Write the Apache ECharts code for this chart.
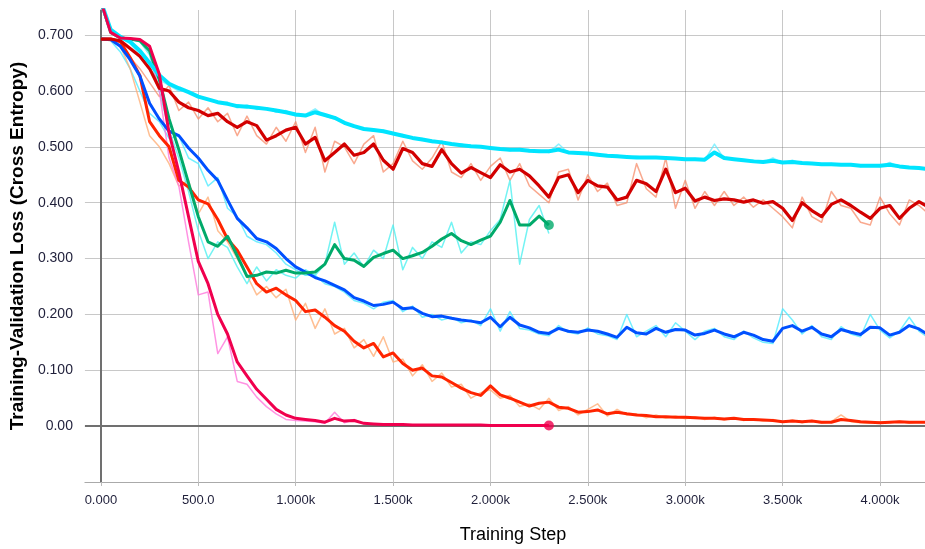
<!DOCTYPE html>
<html>
<head>
<meta charset="utf-8">
<title>Training-Validation Loss</title>
<script src="https://cdn.jsdelivr.net/npm/echarts@6/dist/echarts.min.js"></script>
<style>
    html, body { margin: 0; padding: 0; background: #fff; }
    #lossChartDiv { width: 925px; height: 549px; }
</style>
</head>
<body>
<div id="lossChartDiv"></div>
<script>
// training steps, one point every 50 steps
var steps = [0, 50, 100, 150, 200, 250, 300, 350, 400, 450,
    500, 550, 600, 650, 700, 750, 800, 850, 900, 950,
    1000, 1050, 1100, 1150, 1200, 1250, 1300, 1350, 1400, 1450,
    1500, 1550, 1600, 1650, 1700, 1750, 1800, 1850, 1900, 1950,
    2000, 2050, 2100, 2150, 2200, 2250, 2300, 2350, 2400, 2450,
    2500, 2550, 2600, 2650, 2700, 2750, 2800, 2850, 2900, 2950,
    3000, 3050, 3100, 3150, 3200, 3250, 3300, 3350, 3400, 3450,
    3500, 3550, 3600, 3650, 3700, 3750, 3800, 3850, 3900, 3950,
    4000, 4050, 4100, 4150, 4200, 4250];

var xTicks = [0, 500, 1000, 1500, 2000, 2500, 3000, 3500, 4000];
var yTicks = [-0.1, 0, 0.1, 0.2, 0.3, 0.4, 0.5, 0.6, 0.7];

// cyan run (smoothed + raw)
var cyanSmooth = [0.76, 0.71, 0.697, 0.688, 0.672, 0.65, 0.628, 0.613, 0.605, 0.598,
    0.59, 0.585, 0.58, 0.577, 0.573, 0.572, 0.57, 0.568, 0.565, 0.562,
    0.558, 0.556, 0.562, 0.557, 0.552, 0.543, 0.537, 0.532, 0.53, 0.528,
    0.524, 0.52, 0.516, 0.513, 0.51, 0.508, 0.505, 0.503, 0.501, 0.5,
    0.498, 0.496, 0.495, 0.495, 0.493, 0.492, 0.492, 0.495, 0.49, 0.489,
    0.488, 0.486, 0.484, 0.483, 0.482, 0.481, 0.481, 0.481, 0.48, 0.479,
    0.478, 0.478, 0.477, 0.49, 0.48, 0.478, 0.476, 0.474, 0.473, 0.475,
    0.472, 0.473, 0.471, 0.47, 0.469, 0.469, 0.468, 0.468, 0.466, 0.466,
    0.466, 0.468, 0.465, 0.463, 0.462, 0.46];
var cyanRaw = [0.76, 0.71, 0.695, 0.685, 0.665, 0.64, 0.62, 0.61, 0.6, 0.6,
    0.588, 0.585, 0.578, 0.58, 0.57, 0.575, 0.567, 0.57, 0.562, 0.565,
    0.555, 0.558, 0.568, 0.555, 0.55, 0.545, 0.535, 0.534, 0.528, 0.53,
    0.522, 0.522, 0.514, 0.515, 0.508, 0.51, 0.503, 0.505, 0.5, 0.502,
    0.496, 0.498, 0.493, 0.497, 0.491, 0.494, 0.49, 0.505, 0.489, 0.49,
    0.486, 0.488, 0.483, 0.485, 0.481, 0.483, 0.48, 0.482, 0.479, 0.48,
    0.477, 0.479, 0.476, 0.505, 0.479, 0.478, 0.475, 0.476, 0.472, 0.48,
    0.471, 0.476, 0.47, 0.471, 0.468, 0.47, 0.467, 0.469, 0.465, 0.467,
    0.465, 0.472, 0.464, 0.464, 0.461, 0.459];

// dark red run
var darkRedSmooth = [0.693, 0.693, 0.69, 0.676, 0.662, 0.64, 0.605, 0.6, 0.58, 0.57,
    0.565, 0.556, 0.56, 0.545, 0.535, 0.545, 0.538, 0.512, 0.52, 0.53,
    0.535, 0.505, 0.517, 0.475, 0.49, 0.505, 0.485, 0.49, 0.505, 0.476,
    0.46, 0.497, 0.49, 0.47, 0.465, 0.495, 0.47, 0.453, 0.463, 0.454,
    0.445, 0.468, 0.455, 0.46, 0.448, 0.43, 0.41, 0.445, 0.45, 0.418,
    0.44, 0.43, 0.428, 0.405, 0.41, 0.44, 0.434, 0.42, 0.46, 0.418,
    0.426, 0.403, 0.41, 0.404, 0.407, 0.405, 0.401, 0.405, 0.399, 0.402,
    0.39, 0.368, 0.4, 0.386, 0.375, 0.397, 0.405, 0.395, 0.383, 0.372,
    0.39, 0.395, 0.372, 0.39, 0.402, 0.392];
var darkRedRaw = [0.693, 0.693, 0.68, 0.66, 0.64, 0.615, 0.59, 0.61, 0.565, 0.58,
    0.55, 0.57, 0.545, 0.56, 0.52, 0.555, 0.52, 0.505, 0.535, 0.51,
    0.545, 0.49, 0.535, 0.455, 0.51, 0.5, 0.47, 0.505, 0.52, 0.455,
    0.47, 0.51, 0.475, 0.46, 0.48, 0.51, 0.455, 0.445, 0.47, 0.44,
    0.465, 0.48, 0.44, 0.47, 0.43, 0.415, 0.4, 0.455, 0.46, 0.405,
    0.45, 0.42, 0.435, 0.395, 0.4, 0.47, 0.425, 0.41, 0.48, 0.39,
    0.44, 0.39, 0.42, 0.395, 0.42, 0.395, 0.41, 0.392, 0.405, 0.39,
    0.375, 0.355, 0.41, 0.375, 0.365, 0.42, 0.395, 0.39, 0.365, 0.36,
    0.41, 0.38, 0.36, 0.405, 0.395, 0.38];

// blue run
var blueSmooth = [0.693, 0.692, 0.68, 0.656, 0.627, 0.578, 0.55, 0.528, 0.52, 0.498,
    0.48, 0.458, 0.44, 0.405, 0.372, 0.355, 0.336, 0.33, 0.318, 0.3,
    0.285, 0.276, 0.266, 0.26, 0.252, 0.244, 0.23, 0.224, 0.216, 0.218,
    0.222, 0.21, 0.212, 0.202, 0.196, 0.197, 0.193, 0.19, 0.188, 0.185,
    0.195, 0.178, 0.195, 0.181, 0.176, 0.168, 0.166, 0.175, 0.17, 0.168,
    0.172, 0.17, 0.165, 0.159, 0.177, 0.167, 0.165, 0.175, 0.168, 0.173,
    0.172, 0.163, 0.166, 0.172, 0.165, 0.16, 0.168, 0.163, 0.155, 0.152,
    0.175, 0.18, 0.17, 0.177, 0.165, 0.16, 0.173, 0.168, 0.164, 0.177,
    0.176, 0.163, 0.168, 0.18, 0.174, 0.163];
var blueRaw = [0.693, 0.69, 0.67, 0.64, 0.6, 0.56, 0.545, 0.515, 0.52, 0.48,
    0.47, 0.43, 0.445, 0.39, 0.375, 0.34, 0.33, 0.325, 0.31, 0.29,
    0.28, 0.27, 0.27, 0.255, 0.25, 0.24, 0.225, 0.22, 0.21, 0.222,
    0.225, 0.205, 0.215, 0.195, 0.2, 0.19, 0.195, 0.185, 0.19, 0.18,
    0.21, 0.17, 0.205, 0.175, 0.172, 0.165, 0.162, 0.18, 0.168, 0.165,
    0.176, 0.165, 0.162, 0.155, 0.2, 0.16, 0.17, 0.18, 0.16, 0.185,
    0.17, 0.155, 0.17, 0.175, 0.16, 0.155, 0.17, 0.158, 0.15, 0.148,
    0.21, 0.19, 0.165, 0.18, 0.16, 0.155, 0.178, 0.165, 0.16, 0.2,
    0.172, 0.158, 0.17, 0.195, 0.17, 0.158];

// red-orange run
var redSmooth = [0.693, 0.693, 0.688, 0.66, 0.628, 0.545, 0.52, 0.5, 0.44, 0.428,
    0.405, 0.398, 0.37, 0.335, 0.315, 0.285, 0.255, 0.24, 0.247, 0.235,
    0.225, 0.205, 0.208, 0.195, 0.18, 0.17, 0.152, 0.14, 0.148, 0.124,
    0.131, 0.112, 0.1, 0.104, 0.09, 0.088, 0.078, 0.068, 0.06, 0.055,
    0.072, 0.056, 0.05, 0.043, 0.036, 0.041, 0.043, 0.034, 0.032, 0.025,
    0.026, 0.029, 0.022, 0.025, 0.022, 0.02, 0.019, 0.017, 0.017, 0.016,
    0.016, 0.015, 0.014, 0.014, 0.013, 0.014, 0.012, 0.012, 0.011, 0.01,
    0.008, 0.009, 0.008, 0.009, 0.007, 0.007, 0.012, 0.01, 0.008, 0.007,
    0.006, 0.007, 0.008, 0.007, 0.007, 0.007];
var redRaw = [0.693, 0.69, 0.68, 0.64, 0.58, 0.52, 0.5, 0.47, 0.43, 0.44,
    0.38, 0.41, 0.35, 0.33, 0.3, 0.27, 0.235, 0.25, 0.23, 0.245,
    0.19, 0.22, 0.175, 0.21, 0.165, 0.175, 0.14, 0.155, 0.125, 0.16,
    0.115, 0.12, 0.09, 0.11, 0.08, 0.095, 0.07, 0.075, 0.05, 0.06,
    0.065, 0.05, 0.055, 0.035, 0.04, 0.03, 0.05, 0.028, 0.035, 0.02,
    0.03, 0.04, 0.018, 0.03, 0.02, 0.022, 0.015, 0.02, 0.014, 0.018,
    0.013, 0.017, 0.012, 0.016, 0.011, 0.015, 0.01, 0.013, 0.009, 0.012,
    0.007, 0.011, 0.006, 0.01, 0.005, 0.008, 0.02, 0.008, 0.006, 0.005,
    0.008, 0.006, 0.009, 0.005, 0.008, 0.006];

// green run (stops at 2.3k)
var greenSmooth = [0.76, 0.705, 0.695, 0.693, 0.69, 0.672, 0.62, 0.55, 0.495, 0.435,
    0.375, 0.33, 0.322, 0.34, 0.305, 0.268, 0.27, 0.276, 0.274, 0.279,
    0.274, 0.274, 0.276, 0.29, 0.325, 0.3, 0.297, 0.286, 0.302, 0.309,
    0.315, 0.3, 0.305, 0.311, 0.322, 0.335, 0.345, 0.332, 0.325, 0.333,
    0.34, 0.365, 0.404, 0.36, 0.36, 0.376, 0.36];
var greenRaw = [0.76, 0.705, 0.695, 0.693, 0.688, 0.665, 0.6, 0.53, 0.48, 0.42,
    0.35, 0.3, 0.33, 0.32, 0.285, 0.255, 0.285, 0.26, 0.28, 0.27,
    0.265, 0.28, 0.27, 0.29, 0.365, 0.29, 0.31, 0.285, 0.315, 0.3,
    0.36, 0.28, 0.32, 0.3, 0.33, 0.32, 0.365, 0.31, 0.33, 0.325,
    0.35, 0.37, 0.44, 0.29, 0.37, 0.395, 0.345];

// crimson run (stops at 2.3k)
var crimsonSmooth = [0.76, 0.705, 0.695, 0.694, 0.692, 0.68, 0.63, 0.525, 0.455, 0.375,
    0.295, 0.255, 0.2, 0.165, 0.115, 0.09, 0.066, 0.048, 0.03, 0.02,
    0.014, 0.012, 0.01, 0.007, 0.014, 0.009, 0.01, 0.005, 0.004, 0.003,
    0.003, 0.003, 0.002, 0.002, 0.002, 0.002, 0.002, 0.002, 0.002, 0.002,
    0.001, 0.001, 0.001, 0.001, 0.001, 0.001, 0.001];
var crimsonRaw = [0.76, 0.705, 0.695, 0.694, 0.69, 0.67, 0.6, 0.48, 0.43, 0.33,
    0.235, 0.24, 0.13, 0.16, 0.08, 0.075, 0.052, 0.035, 0.022, 0.012,
    0.01, 0.009, 0.008, 0.005, 0.025, 0.006, 0.012, 0.004, 0.003, 0.003,
    0.002, 0.003, 0.002, 0.002, 0.001, 0.002, 0.001, 0.002, 0.001, 0.001,
    0.001, 0.001, 0.001, 0.001, 0.001, 0.001, 0.001];

var lossChart = echarts.init(document.getElementById("lossChartDiv"));

function pairUp(values) {
    var list = [];
    for (var i = 0; i < values.length; i++) {
        list.push([steps[i], values[i]]);
    }
    return list;
}

function lineSeries(name, values, color, width, z) {
    return {
        name: name,
        type: 'line',
        data: pairUp(values),
        showSymbol: false,
        symbol: 'none',
        silent: true,
        z: z,
        lineStyle: { color: color, width: width, join: 'round' }
    };
}

function lastPoint(values) {
    var n = values.length - 1;
    return [steps[n], values[n]];
}

function xLabel(v) {
    if (v === 0) return '0.000';
    if (v < 1000) return v.toFixed(1);
    return (v / 1000).toFixed(3) + 'k';
}

function yLabel(v) {
    if (Math.abs(v) < 1e-9) return '0.00';
    return v.toFixed(3);
}

var gridColor = 'rgba(110,110,110,0.38)';
var textColor = '#1f1f3a';

var lossOption = {
    animation: false,
    backgroundColor: '#ffffff',
    grid: { left: 84, right: 0, top: 10, bottom: 67, containLabel: false },
    xAxis: {
        type: 'value',
        min: -82,
        max: 4231,
        name: 'Training Step',
        nameLocation: 'middle',
        nameGap: 44,
        nameTextStyle: { fontFamily: 'Liberation Sans', fontSize: 18, color: '#000', padding: [0, 0, 0, 16] },
        axisLine: { show: true, onZero: false, lineStyle: { color: '#aaa', width: 1 } },
        axisTick: { show: true, length: 4, customValues: xTicks, lineStyle: { color: '#bbb' } },
        axisLabel: {
            customValues: xTicks,
            formatter: xLabel,
            margin: 12,
            fontFamily: 'Liberation Sans',
            fontSize: 13,
            color: textColor
        },
        splitLine: { show: true, customValues: xTicks, lineStyle: { color: gridColor, width: 1 } }
    },
    yAxis: {
        type: 'value',
        min: -0.1,
        max: 0.745,
        name: 'Training-Validation Loss (Cross Entropy)',
        nameLocation: 'middle',
        nameGap: 50,
        nameTextStyle: { fontFamily: 'Liberation Sans', fontSize: 19, fontWeight: 'bold', color: '#000' },
        axisLine: { show: true, lineStyle: { color: '#999', width: 1.5 } },
        axisTick: { show: false, customValues: yTicks },
        axisLabel: {
            customValues: yTicks.slice(1),
            formatter: yLabel,
            margin: 12,
            fontFamily: 'Liberation Sans',
            fontSize: 14,
            color: textColor
        },
        splitLine: { show: true, customValues: yTicks, lineStyle: { color: gridColor, width: 1 } }
    },
    series: [
        lineSeries('cyan raw', cyanRaw, 'rgba(90,235,255,0.7)', 1.5, 1),
        lineSeries('dark red raw', darkRedRaw, 'rgba(247,140,105,0.75)', 1.5, 1),
        lineSeries('blue raw', blueRaw, 'rgba(80,235,255,0.8)', 1.5, 1),
        lineSeries('red raw', redRaw, 'rgba(255,175,120,0.8)', 1.5, 1),
        lineSeries('green raw', greenRaw, 'rgba(80,240,240,0.8)', 1.5, 1),
        lineSeries('crimson raw', crimsonRaw, 'rgba(255,120,220,0.8)', 1.5, 1),
        lineSeries('red', redSmooth, '#ff2400', 3, 2),
        lineSeries('blue', blueSmooth, '#0050ff', 3, 3),
        lineSeries('green', greenSmooth, '#00aa6a', 3, 4),
        lineSeries('dark red', darkRedSmooth, '#d20000', 3.2, 5),
        lineSeries('cyan', cyanSmooth, '#00e4ff', 4, 6),
        lineSeries('crimson', crimsonSmooth, '#f0004e', 3, 7),
        {
            name: 'ends',
            type: 'scatter',
            silent: true,
            z: 8,
            symbolSize: 10,
            data: [
                { value: lastPoint(greenSmooth), itemStyle: { color: '#00aa6a' } },
                { value: lastPoint(crimsonSmooth), itemStyle: { color: '#f0004e' } }
            ],
            markLine: {
                silent: true,
                symbol: 'none',
                label: { show: false },
                lineStyle: { color: '#707070', width: 2, type: 'solid' },
                data: [{ xAxis: 0 }, { yAxis: 0 }]
            }
        }
    ]
};

lossChart.setOption(lossOption);
</script>
</body>
</html>
